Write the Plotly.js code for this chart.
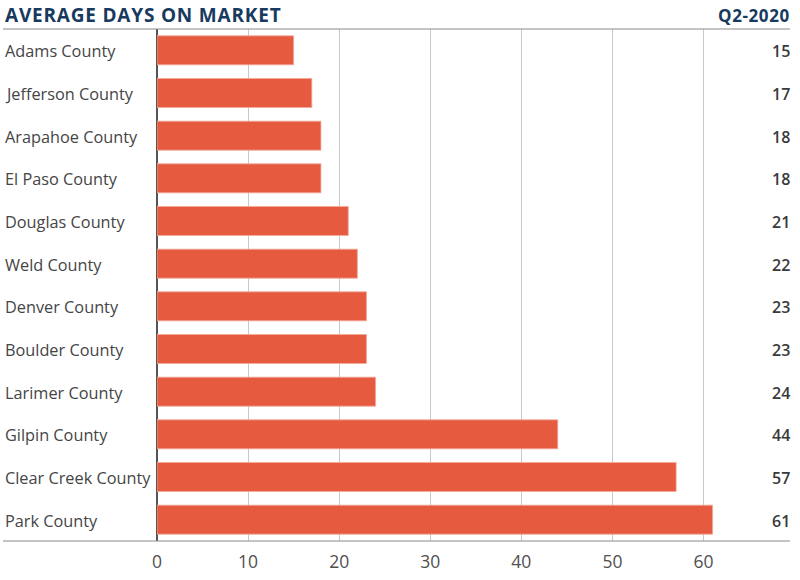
<!DOCTYPE html>
<html>
<head>
<meta charset="utf-8">
<script src="https://cdn.plot.ly/plotly-3.0.1.min.js"></script>
<style>html,body{margin:0;padding:0;background:#fff;}#chart{width:800px;height:580px;}</style>
</head>
<body>
<div id="chart"></div>
<script>
const counties = ["Adams County","Jefferson County","Arapahoe County","El Paso County","Douglas County","Weld County","Denver County","Boulder County","Larimer County","Gilpin County","Clear Creek County","Park County"];
const days = [15,17,18,18,21,22,23,23,24,44,57,61];
const xTicks = [0,10,20,30,40,50,60];
const chartTitle = "AVERAGE DAYS ON MARKET";
const period = "Q2-2020";

const W = 800, H = 580, ml = 157, mr = 10, mt = 29, mb = 39;
const pw = W - ml - mr;
const leftPaper = (3 - ml) / pw;

const trace = {
  type: "bar",
  orientation: "h",
  y: counties,
  x: days,
  marker: {color: "#e65b3f", line: {color: "#f4a898", width: 0.8}},
  hoverinfo: "none",
  cliponaxis: false
};

const annotations = [];
counties.forEach((c, i) => {
  annotations.push({x: leftPaper, xref: "paper", y: c, yref: "y", yshift: -1, text: c, showarrow: false,
    xanchor: "left", yanchor: "middle", font: {family: "Open Sans", size: 16.3, color: "#454545"}});
  annotations.push({x: 1, xref: "paper", xshift: 2, y: c, yref: "y", yshift: -1, text: String(days[i]), showarrow: false,
    xanchor: "right", yanchor: "middle", font: {family: "Open Sans", size: 16, weight: 600, color: "#3a3a3a"}});
});
annotations.push({x: 1, xref: "paper", xshift: 2, y: 1 + 14/(H-mt-mb), yref: "paper", text: "<b><span style=\"letter-spacing:0.6px\">" + period + "</span></b>", showarrow: false,
  xanchor: "right", yanchor: "middle", font: {family: "Open Sans", size: 17, color: "#173a5e"}});
annotations.push({x: leftPaper, xref: "paper", y: 1 + 14/(H-mt-mb), yref: "paper", text: "<b><span style=\"letter-spacing:0.8px\">" + chartTitle + "</span></b>", showarrow: false,
  xanchor: "left", yanchor: "middle", font: {family: "Open Sans", size: 19, color: "#173a5e"}});

const layout = {
  width: W, height: H,
  margin: {l: ml, r: mr, t: mt, b: mb, pad: 0},
  paper_bgcolor: "#fff", plot_bgcolor: "#fff",
  showlegend: false,
  bargap: 0.32,
  xaxis: {range: [0, 69.5], tickvals: xTicks, ticktext: xTicks.map(String), showgrid: true, gridcolor: "#c8c8c8", gridwidth: 1,
    zeroline: true, zerolinecolor: "#555", zerolinewidth: 1.5, showline: false, ticks: "", ticklabelstandoff: 8,
    tickfont: {family: "Open Sans", size: 17.5, color: "#505050"}, fixedrange: true},
  yaxis: {type: "category", autorange: "reversed", showticklabels: false, showgrid: false, zeroline: false, showline: false, ticks: "", fixedrange: true},
  shapes: [
    {type: "line", xref: "paper", yref: "paper", x0: leftPaper, x1: 1, y0: 1, y1: 1, line: {color: "#8a8a8a", width: 1.2}},
    {type: "line", xref: "paper", yref: "paper", x0: leftPaper, x1: 1, y0: 0, y1: 0, line: {color: "#8a8a8a", width: 1.2}}
  ],
  annotations: annotations
};

Plotly.newPlot("chart", [trace], layout, {displayModeBar: false, staticPlot: true});
</script>
</body>
</html>
